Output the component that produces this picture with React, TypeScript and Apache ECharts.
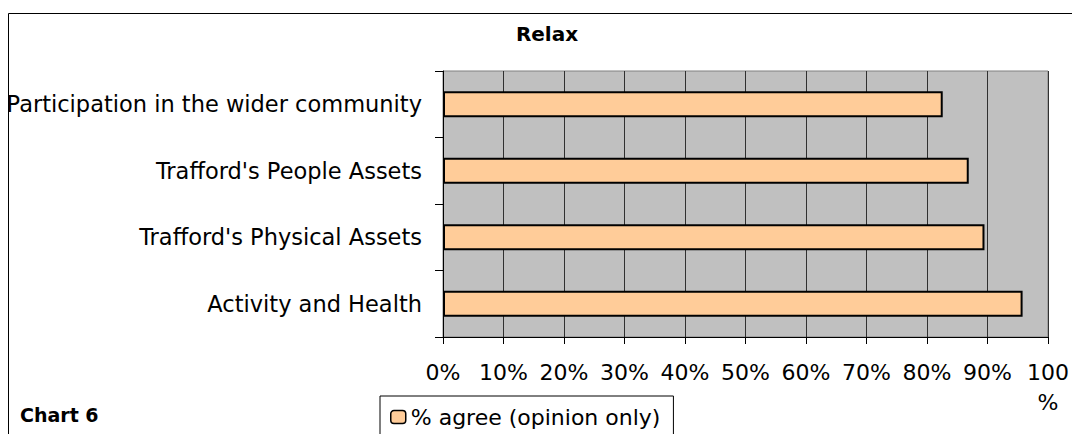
import React, { useEffect, useRef } from "react";
import * as echarts from "echarts";

const categories = [
  "Activity and Health",
  "Trafford's Physical Assets",
  "Trafford's People Assets",
  "Participation in the wider community",
];
const agreeValues = [95.8, 89.5, 86.9, 82.6];
const seriesName = "% agree (opinion only)";
const titleText = "Relax";
const chartLabel = "Chart 6";

const FONT = "DejaVu Sans";

export default function App() {
  const ref = useRef<HTMLDivElement>(null);
  useEffect(() => {
    if (!ref.current) return;
    const chart = echarts.init(ref.current, null, { renderer: "svg" });
    chart.setOption({
      animation: false,
      backgroundColor: "#ffffff",
      title: {
        text: titleText,
        left: 547,
        top: 24,
        padding: 0,
        textAlign: "center",
        textStyle: { fontFamily: FONT, fontSize: 20, fontWeight: "bold", color: "#000" },
      },
      legend: {
        data: [seriesName],
        left: 380,
        top: 396,
        itemWidth: 15,
        itemHeight: 13,
        padding: [9, 13, 12, 10],
        borderColor: "#000",
        borderWidth: 1,
        textStyle: { fontFamily: FONT, fontSize: 22, color: "#000", lineHeight: 24 },
        itemStyle: { color: "#FFCC99", borderColor: "#000", borderWidth: 1.5 },
      },
      graphic: [
        {
          type: "rect",
          shape: { x: 8.5, y: 13.5, width: 1200, height: 600 },
          style: { fill: "none", stroke: "#000", lineWidth: 1 },
          silent: true,
        },
        {
          type: "text",
          x: 20,
          y: 415,
          style: {
            text: chartLabel,
            fontFamily: FONT,
            fontSize: 19,
            fontWeight: "bold",
            fill: "#000",
            textVerticalAlign: "middle",
          },
        },
      ],
      grid: {
        left: 443,
        top: 71,
        width: 607,
        height: 266,
        show: true,
        backgroundColor: "#c0c0c0",
        borderColor: "#808080",
        borderWidth: 1,
      },
      xAxis: {
        type: "value",
        min: 0,
        max: 100,
        interval: 10,
        axisLine: { show: true, lineStyle: { color: "#000", width: 1 } },
        axisTick: { show: true, length: 7, lineStyle: { color: "#000" } },
        splitLine: { show: true, lineStyle: { color: "#303030", width: 1 } },
        axisLabel: {
          margin: 20,
          fontFamily: FONT,
          fontSize: 22,
          color: "#000",
          lineHeight: 30,
          formatter: (v: number) => (v === 100 ? "100\n%" : v + "%"),
        },
      },
      yAxis: {
        type: "category",
        data: categories,
        axisLine: { show: true, lineStyle: { color: "#000", width: 1 } },
        axisTick: { show: true, length: 8, lineStyle: { color: "#000" } },
        splitLine: { show: false },
        axisLabel: { margin: 21, fontFamily: FONT, fontSize: 22.5, color: "#000" },
      },
      series: [
        {
          name: seriesName,
          type: "bar",
          data: agreeValues,
          barWidth: "39%",
          itemStyle: { color: "#FFCC99", borderColor: "#000", borderWidth: 2 },
        },
      ],
    });
    return () => chart.dispose();
  }, []);
  return (
    <div
      ref={ref}
      style={{ position: "fixed", left: 0, top: 0, width: 1072, height: 434 }}
    />
  );
}
